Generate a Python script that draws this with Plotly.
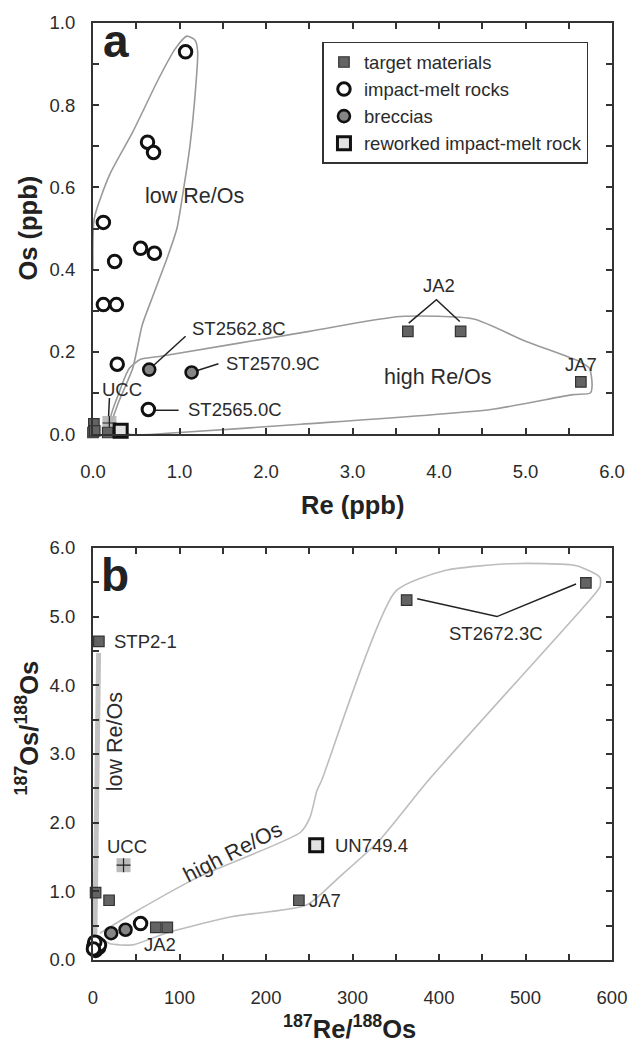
import plotly.graph_objects as go

# ---------------- Panel a: Os vs Re (ppb) ----------------
target_re = [0.01, 0.00, 0.02, 0.17, 3.64, 4.25, 5.64]
target_os = [0.025, 0.004, 0.008, 0.004, 0.25, 0.25, 0.127]

melt_re = [1.07, 0.63, 0.70, 0.12, 0.55, 0.71, 0.25, 0.12, 0.27, 0.28, 0.64]
melt_os = [0.93, 0.71, 0.685, 0.515, 0.452, 0.44, 0.42, 0.315, 0.315, 0.17, 0.06]

breccia_re = [0.65, 1.14]
breccia_os = [0.157, 0.150]

reworked_re = [0.32]
reworked_os = [0.008]

ucc_re = [0.19]
ucc_os = [0.027]

# envelopes (panel a)
low_env_re = [0.0, 0.015, 0.19, 0.46, 0.76, 0.95, 1.085, 1.18, 1.21, 1.17, 1.12, 1.05, 0.97, 0.86, 0.70, 0.57, 0.46, 0.30, 0.21, 0.12]
low_env_os = [0.40, 0.525, 0.63, 0.735, 0.865, 0.937, 0.968, 0.958, 0.93, 0.80, 0.70, 0.60, 0.50, 0.43, 0.34, 0.266, 0.161, 0.08, 0.03, 0.0]

high_env_re = [0.40, 0.20, 0.30, 0.42, 0.55, 0.80, 2.50, 3.55, 4.40, 5.00, 5.62, 5.74, 5.77, 5.75, 5.55, 4.60, 2.40, 1.00, 0.40]
high_env_os = [0.0, 0.03, 0.10, 0.16, 0.182, 0.19, 0.25, 0.286, 0.28, 0.226, 0.177, 0.16, 0.12, 0.10, 0.096, 0.06, 0.024, 0.004, 0.0]

# ---------------- Panel b: 187Os/188Os vs 187Re/188Os ----------------
target_rr = [6.8, 3.0, 18.6, 72.6, 85.9, 238.0, 362.6, 569.8]
target_osr = [4.64, 0.98, 0.87, 0.475, 0.475, 0.87, 5.24, 5.49]

melt_rr = [1.5, 2.5, 4.0, 5.0, 6.5, 3.0, 1.0, 7.5, 2.0, 0.5, 55.0]
melt_osr = [0.22, 0.17, 0.25, 0.20, 0.18, 0.14, 0.19, 0.22, 0.26, 0.16, 0.53]

breccia_rr = [21.0, 37.6]
breccia_osr = [0.39, 0.44]

reworked_rr = [258.0]
reworked_osr = [1.67]

ucc_rr = [35.3]
ucc_osr = [1.38]

high_env_rr = [8, 46, 122, 240, 251, 259, 264.5, 350, 407, 483, 559, 586, 586, 570, 388, 331, 285, 247, 160, 84, 46, 19, 8]
high_env_osr = [0.39, 0.68, 1.21, 1.86, 2.08, 2.47, 2.62, 5.37, 5.67, 5.77, 5.74, 5.57, 5.43, 5.18, 2.62, 1.74, 1.21, 0.80, 0.63, 0.39, 0.22, 0.24, 0.34]

low_trend_rr = [2.0, 6.5]
low_trend_osr = [0.20, 4.47]

FONT = "Liberation Sans, Arial, sans-serif"
TXT = "#2b2b2b"
TARGET_FILL = "#636363"
BRECCIA_FILL = "#858585"
REWORKED_FILL = "#e2e2e2"
UCC_FILL = "#b4b4b4"

fig = go.Figure()


def add_env(x, y, xa, ya, color):
    fig.add_trace(go.Scatter(x=x, y=y, mode="lines", xaxis=xa, yaxis=ya,
                             line=dict(color=color, width=1.6, shape="spline", smoothing=0.6),
                             showlegend=False, hoverinfo="skip"))


add_env(low_env_re, low_env_os, "x", "y", "#9a9a9a")
add_env(high_env_re, high_env_os, "x", "y", "#9a9a9a")
add_env(high_env_rr, high_env_osr, "x2", "y2", "#bdbdbd")

# low Re/Os trend in panel b: a thick light bar along the y axis
fig.add_trace(go.Scatter(x=low_trend_rr, y=low_trend_osr, mode="lines", xaxis="x2", yaxis="y2",
                         line=dict(color="#c2c2c2", width=5), showlegend=False, hoverinfo="skip"))

# leader lines
lead_a_x = [1.07, 0.69, None, 1.45, 1.18, None, 0.99, 0.71, None, 0.19, 0.175, None, 3.65, 3.97, 4.24]
lead_a_y = [0.238, 0.165, None, 0.171, 0.153, None, 0.058, 0.058, None, 0.088, 0.02, None, 0.270, 0.327, 0.274]
fig.add_trace(go.Scatter(x=lead_a_x, y=lead_a_y, mode="lines", xaxis="x", yaxis="y",
                         line=dict(color="#222", width=1.5), showlegend=False, hoverinfo="skip"))
lead_b_x = [374.8, 467, 558.4]
lead_b_y = [5.26, 5.00, 5.475]
fig.add_trace(go.Scatter(x=lead_b_x, y=lead_b_y, mode="lines", xaxis="x2", yaxis="y2",
                         line=dict(color="#222", width=1.5), showlegend=False, hoverinfo="skip"))

# UCC squares with a cross
for ux, uy, xa, ya in [(ucc_re, ucc_os, "x", "y"), (ucc_rr, ucc_osr, "x2", "y2")]:
    fig.add_trace(go.Scatter(x=ux, y=uy, mode="markers", xaxis=xa, yaxis=ya, cliponaxis=False,
                             marker=dict(symbol="square", size=14, color=UCC_FILL, opacity=0.9,
                                         line=dict(width=0)),
                             showlegend=False, hoverinfo="skip"))
    fig.add_trace(go.Scatter(x=ux, y=uy, mode="markers", xaxis=xa, yaxis=ya, cliponaxis=False,
                             marker=dict(symbol="cross-thin", size=10, line=dict(color="#222", width=1.2)),
                             showlegend=False, hoverinfo="skip"))


def add_group(xs, ys, xa, ya, name, symbol, size, fill, lw, lc, legend):
    fig.add_trace(go.Scatter(x=xs, y=ys, mode="markers", xaxis=xa, yaxis=ya, name=name,
                             cliponaxis=False, showlegend=legend,
                             marker=dict(symbol=symbol, size=size, color=fill,
                                         line=dict(color=lc, width=lw))))


add_group(target_re, target_os, "x", "y", "target materials", "square", 10.5, TARGET_FILL, 1.2, "#333", True)
add_group(melt_re, melt_os, "x", "y", "impact-melt rocks", "circle", 12.5, "white", 3, "#111", True)
add_group(breccia_re, breccia_os, "x", "y", "breccias", "circle", 12, BRECCIA_FILL, 2.6, "#111", True)
add_group(reworked_re, reworked_os, "x", "y", "reworked impact-melt rock", "square", 13, REWORKED_FILL, 3, "#111", True)

add_group(target_rr, target_osr, "x2", "y2", "target materials", "square", 10.5, TARGET_FILL, 1.2, "#333", False)
add_group(melt_rr, melt_osr, "x2", "y2", "impact-melt rocks", "circle", 12.5, "white", 3, "#111", False)
add_group(breccia_rr, breccia_osr, "x2", "y2", "breccias", "circle", 12, BRECCIA_FILL, 2.6, "#111", False)
add_group(reworked_rr, reworked_osr, "x2", "y2", "reworked impact-melt rock", "square", 13, REWORKED_FILL, 3, "#111", False)

# ---------------- annotations ----------------
ann = []


def label(text, x, y, xref, yref, size=18.5, xanchor="center", angle=0, bold=False, color=TXT):
    t = f"<b>{text}</b>" if bold else text
    ann.append(dict(text=t, x=x, y=y, xref=xref, yref=yref, showarrow=False,
                    xanchor=xanchor, yanchor="middle", textangle=angle,
                    font=dict(family=FONT, size=size, color=color)))


REGION = 21.5

# panel a labels
label("a", 0.262, 0.957, "x", "y", size=46, bold=True, color="#222")
label("low Re/Os", 1.17, 0.578, "x", "y", size=REGION)
label("high Re/Os", 3.99, 0.14, "x", "y", size=REGION)
label("ST2562.8C", 1.12, 0.257, "x", "y", xanchor="left")
label("ST2570.9C", 1.52, 0.171, "x", "y", xanchor="left")
label("ST2565.0C", 1.07, 0.060, "x", "y", xanchor="left")
label("UCC", 0.33, 0.108, "x", "y")
label("JA2", 4.0, 0.362, "x", "y")
label("JA7", 5.64, 0.170, "x", "y")

# panel b labels
label("b", 26, 5.6, "x2", "y2", size=46, bold=True, color="#222")
label("STP2-1", 21.7, 4.64, "x2", "y2", xanchor="left")
label("ST2672.3C", 466, 4.76, "x2", "y2")
label("UCC", 39, 1.65, "x2", "y2")
label("UN749.4", 277, 1.67, "x2", "y2", xanchor="left")
label("JA7", 247, 0.87, "x2", "y2", xanchor="left")
label("JA2", 77.3, 0.22, "x2", "y2")
label("high Re/Os", 162, 1.57, "x2", "y2", size=REGION, angle=-27)
label("low Re/Os", 25, 3.18, "x2", "y2", size=REGION, angle=-90)

# axis titles (positions given in pixels, converted to paper units)
L, R, T, B, W, H = 93, 19, 21, 84, 639, 1044
PW, PH = W - L - R, H - T - B


def px(p):
    return (p - L) / PW


def py(p):
    return (H - B - p) / PH


TITLE = 25.5
label("Os (ppb)", px(27), py(227), "paper", "paper", size=TITLE, angle=-90, bold=True, color="#222")
label("Re (ppb)", px(357), py(504), "paper", "paper", size=TITLE, bold=True, color="#222")
label("<sup>187</sup>Os/<sup>188</sup>Os", px(27), py(728), "paper", "paper", size=TITLE, angle=-90, bold=True, color="#222")
label("<sup>187</sup>Re/<sup>188</sup>Os", px(353), py(1027), "paper", "paper", size=TITLE, bold=True, color="#222")

axis_common = dict(showline=True, linecolor="#333", linewidth=2, mirror="ticks",
                   ticks="inside", ticklen=6, tickwidth=1.5, tickcolor="#333",
                   showgrid=False, zeroline=False,
                   tickfont=dict(family=FONT, size=18.5, color=TXT))


def minor(d):
    return dict(dtick=d, ticks="inside", ticklen=6, tickwidth=1.5, tickcolor="#333", showgrid=False)


top_dom = [py(433), 1.0]
bot_dom = [0.0, py(547)]

fig.update_layout(
    width=W, height=H,
    margin=dict(l=L, r=R, t=T, b=B),
    paper_bgcolor="white", plot_bgcolor="white",
    font=dict(family=FONT, color=TXT),
    xaxis=dict(axis_common, range=[0, 6], dtick=1, tickformat=".1f", minor=minor(0.5),
               anchor="y", domain=[0, 1], ticklabelstandoff=20),
    yaxis=dict(axis_common, range=[0, 1], dtick=0.2, tickformat=".1f", minor=minor(0.1),
               anchor="x", domain=top_dom, ticklabelstandoff=12),
    xaxis2=dict(axis_common, range=[0, 600], dtick=100, minor=minor(50),
                anchor="y2", domain=[0, 1], ticklabelstandoff=20),
    yaxis2=dict(axis_common, range=[0, 6], dtick=1, tickformat=".1f", minor=minor(0.5),
                anchor="x2", domain=bot_dom, ticklabelstandoff=12),
    legend=dict(x=px(326), y=py(40), xanchor="left", yanchor="top", xref="paper", yref="paper",
                bordercolor="#333", borderwidth=1.5, bgcolor="white", tracegroupgap=0,
                font=dict(family=FONT, size=18.5, color=TXT), itemwidth=30),
    annotations=ann,
    showlegend=True,
)

fig.write_html("out.html")
